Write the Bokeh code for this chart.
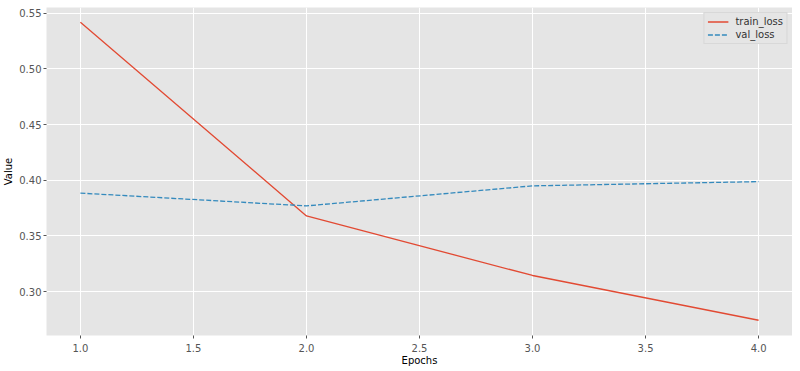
from bokeh.plotting import figure
from bokeh.models import FixedTicker, NumeralTickFormatter, Range1d, Legend, LegendItem
from bokeh.embed import file_html
from bokeh.resources import INLINE

epochs = [1, 2, 3, 4]
train_loss = [0.542, 0.368, 0.3145, 0.2743]
val_loss = [0.3885, 0.3770, 0.3950, 0.3988]
x_ticks = [1.0, 1.5, 2.0, 2.5, 3.0, 3.5, 4.0]
y_ticks = [0.30, 0.35, 0.40, 0.45, 0.50, 0.55]

FONT = "DejaVu Sans"

p = figure(frame_width=746, frame_height=328, output_backend="svg", toolbar_location=None,
           x_range=Range1d(0.85, 4.15), y_range=Range1d(0.2606, 0.5552),
           background_fill_color="#E5E5E5", border_fill_color="white",
           min_border_left=0, min_border_right=0, min_border_top=7, min_border_bottom=0)
p.outline_line_color = None

r1 = p.line(epochs, train_loss, line_color="#E24A33", line_width=1.3)
r2 = p.line(epochs, val_loss, line_color="#348ABD", line_width=1.3, line_dash="5 2")

for ax in (p.xaxis[0], p.yaxis[0]):
    ax.axis_line_color = None
    ax.major_tick_line_color = "#555555"
    ax.major_tick_out = 3
    ax.major_tick_in = 0
    ax.minor_tick_line_color = None
    ax.major_label_text_font = FONT
    ax.major_label_text_font_size = "10px"
    ax.major_label_text_color = "#555555"
    ax.axis_label_text_font = FONT
    ax.axis_label_text_font_size = "10px"
    ax.axis_label_text_font_style = "normal"
    ax.axis_label_text_color = "black"
    ax.major_label_standoff = 3
    ax.axis_label_standoff = 2

p.xaxis[0].major_label_standoff = 5
p.xaxis[0].axis_label_standoff = 0
p.yaxis[0].axis_label_standoff = 2
p.yaxis[0].major_label_standoff = 2

p.xaxis.ticker = FixedTicker(ticks=x_ticks)
p.yaxis.ticker = FixedTicker(ticks=y_ticks)
p.xaxis.formatter = NumeralTickFormatter(format="0.0")
p.yaxis.formatter = NumeralTickFormatter(format="0.00")
p.xaxis.axis_label = "Epochs"
p.yaxis.axis_label = "Value"

p.xgrid.ticker = FixedTicker(ticks=x_ticks)
p.ygrid.ticker = FixedTicker(ticks=y_ticks)
p.grid.grid_line_color = "white"
p.grid.grid_line_width = 1

legend = Legend(items=[LegendItem(label="train_loss", renderers=[r1]),
                       LegendItem(label="val_loss", renderers=[r2])],
                location="top_right")
legend.label_text_font = FONT
legend.label_text_font_size = "10px"
legend.label_text_color = "#333333"
legend.background_fill_color = "#E5E5E5"
legend.background_fill_alpha = 1.0
legend.border_line_color = "#CCCCCC"
legend.glyph_width = 21
legend.glyph_height = 11
legend.label_height = 11
legend.spacing = 2
legend.padding = 3
legend.margin = 5
legend.label_standoff = 7
p.add_layout(legend)

open("out.html", "w").write(file_html(p, INLINE))
